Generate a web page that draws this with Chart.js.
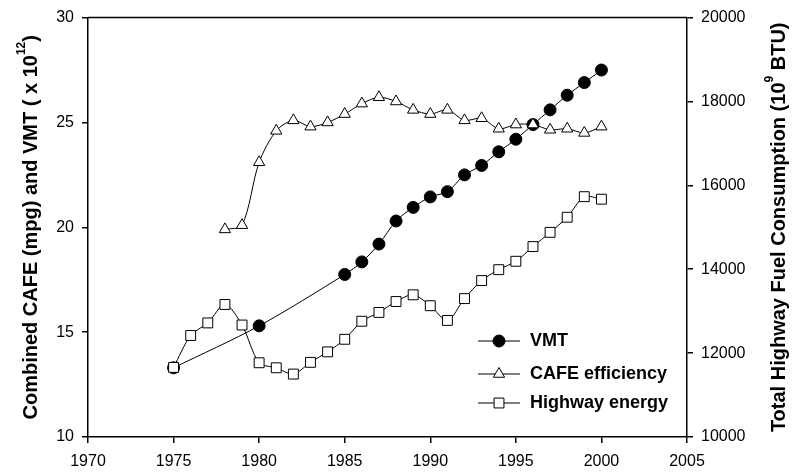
<!DOCTYPE html>
<html>
<head>
<meta charset="utf-8">
<script src="https://cdn.jsdelivr.net/npm/chart.js@4/dist/chart.umd.min.js"></script>
<style>
  html, body { margin: 0; padding: 0; background: #fff; }
  #wrap { width: 796px; height: 472px; }
</style>
</head>
<body>
<div id="wrap"><canvas id="chart" width="796" height="472"></canvas></div>
<script>
// values
const vmtYears = [1975, 1980, 1985, 1986, 1987, 1988, 1989, 1990, 1991, 1992, 1993, 1994, 1995, 1996, 1997, 1998, 1999, 2000]
const vmtValues = [13.3, 15.3, 17.75, 18.35, 19.2, 20.3, 20.95, 21.45, 21.7, 22.5, 22.95, 23.6, 24.2, 24.9, 25.6, 26.3, 26.9, 27.5]

const cafeYears = [1978, 1979, 1980, 1981, 1982, 1983, 1984, 1985, 1986, 1987, 1988, 1989, 1990, 1991, 1992, 1993, 1994, 1995, 1996, 1997, 1998, 1999, 2000]
const cafeValues = [19.9, 20.1, 23.1, 24.6, 25.1, 24.8, 25.0, 25.4, 25.9, 26.2, 26.0, 25.6, 25.4, 25.6, 25.1, 25.2, 24.7, 24.9, 24.9, 24.65, 24.7, 24.5, 24.8]

const energyYears = [1975, 1976, 1977, 1978, 1979, 1980, 1981, 1982, 1983, 1984, 1985, 1986, 1987, 1988, 1989, 1990, 1991, 1992, 1993, 1994, 1995, 1996, 1997, 1998, 1999, 2000]
const energyValues = [11660, 12420, 12720, 13160, 12670, 11770, 11650, 11500, 11780, 12030, 12330, 12760, 12970, 13230, 13390, 13130, 12780, 13300, 13730, 13990, 14190, 14540, 14880, 15240, 15730, 15670]

const seriesLabels = ['VMT', 'CAFE efficiency', 'Highway energy']
const leftTitle = ['Combined CAFE (mpg) and VMT ( x 10', '12', ')']
const rightTitle = ['Total Highway Fuel Consumption (10', '9', ' BTU)']

const toPoints = (xs, ys) => xs.map((x, i) => ({x: x, y: ys[i]}))

const FONT = "'Liberation Sans', Arial, sans-serif"

// frame on top of the plot + rotated titles with superscripts
const framePlugin = {
    id: 'frame',
    afterDraw(chart) {
        const {ctx, chartArea: a} = chart
        ctx.save()
        ctx.strokeStyle = '#000'
        ctx.lineWidth = 1.5
        ctx.beginPath()
        ctx.moveTo(a.left, a.top)
        ctx.lineTo(a.right, a.top)
        ctx.stroke()

        const cy = (a.top + a.bottom) / 2
        drawTitle(ctx, leftTitle, 37, cy)
        drawTitle(ctx, rightTitle, 785, cy)
        ctx.restore()
    }
}

function drawTitle(ctx, parts, baseX, cy) {
    const big = 'bold 20px ' + FONT
    const small = 'bold 12px ' + FONT
    ctx.save()
    ctx.translate(baseX, cy)
    ctx.rotate(-Math.PI / 2)
    ctx.fillStyle = '#000'
    ctx.textBaseline = 'alphabetic'
    ctx.textAlign = 'left'
    let widths = parts.map((p, i) => {
        ctx.font = i === 1 ? small : big
        return ctx.measureText(p).width
    })
    let total = widths.reduce((s, w) => s + w, 0)
    let x = -total / 2
    parts.forEach((p, i) => {
        ctx.font = i === 1 ? small : big
        ctx.fillText(p, x, i === 1 ? -12 : 0)
        x += widths[i]
    })
    ctx.restore()
}

// legend drawn inside the plot, line with marker like the original
const legendPlugin = {
    id: 'innerLegend',
    afterDatasetsDraw(chart) {
        const ctx = chart.ctx
        const rows = [341, 374, 403]
        ctx.save()
        chart.data.datasets.forEach((ds, i) => {
            const y = rows[i]
            ctx.strokeStyle = '#000'
            ctx.lineWidth = 1
            ctx.beginPath()
            ctx.moveTo(478, y)
            ctx.lineTo(520, y)
            ctx.stroke()
            ctx.fillStyle = ds.pointBackgroundColor
            ctx.strokeStyle = '#000'
            Chart.helpers.drawPoint(ctx, {
                pointStyle: ds.pointStyle,
                radius: ds.pointRadius,
                rotation: 0,
                borderWidth: 1
            }, 499, y)
            ctx.fillStyle = '#000'
            ctx.font = 'bold 18px ' + FONT
            ctx.textBaseline = 'middle'
            ctx.textAlign = 'left'
            ctx.fillText(ds.label, 530, y)
        })
        ctx.restore()
    }
}

const tickFont = {family: FONT, size: 16}
const axisBits = {
    grid: {drawOnChartArea: false, drawTicks: true, tickLength: 6, color: '#000', lineWidth: 1.5},
    border: {display: true, color: '#000', width: 1.5}
}

new Chart(document.getElementById('chart'), {
    type: 'line',
    data: {
        datasets: [
            {
                label: seriesLabels[0],
                data: toPoints(vmtYears, vmtValues),
                yAxisID: 'y',
                borderColor: '#000',
                borderWidth: 1,
                pointStyle: 'circle',
                pointRadius: 6,
                pointBackgroundColor: '#000',
                pointBorderColor: '#000',
                order: 2
            },
            {
                label: seriesLabels[1],
                data: toPoints(cafeYears, cafeValues),
                yAxisID: 'y',
                borderColor: '#000',
                borderWidth: 1,
                pointStyle: 'triangle',
                pointRadius: 6.5,
                pointBackgroundColor: '#fff',
                pointBorderColor: '#000',
                order: 1
            },
            {
                label: seriesLabels[2],
                data: toPoints(energyYears, energyValues),
                yAxisID: 'y1',
                borderColor: '#000',
                borderWidth: 1,
                pointStyle: 'rect',
                pointRadius: 7,
                pointBackgroundColor: '#fff',
                pointBorderColor: '#000',
                order: 0
            }
        ]
    },
    options: {
        responsive: false,
        animation: false,
        layout: {padding: {top: 16, left: 0, right: 0, bottom: 0}, autoPadding: false},
        elements: {line: {tension: 0.3}, point: {borderWidth: 1}},
        plugins: {legend: {display: false}, tooltip: {enabled: false}},
        scales: {
            x: {
                type: 'linear',
                min: 1970, max: 2005,
                ticks: {stepSize: 5, color: '#000', font: tickFont, padding: 9, callback: v => String(v)},
                afterFit: s => { s.height = 35 },
                ...axisBits
            },
            y: {
                type: 'linear',
                position: 'left',
                min: 10, max: 30,
                ticks: {stepSize: 5, color: '#000', font: tickFont, padding: 8, callback: v => String(v)},
                afterFit: s => { s.width = 88 },
                ...axisBits
            },
            y1: {
                type: 'linear',
                position: 'right',
                min: 10000, max: 20000,
                ticks: {stepSize: 2000, color: '#000', font: tickFont, padding: 8, callback: v => String(v)},
                afterFit: s => { s.width = 109 },
                ...axisBits
            }
        }
    },
    plugins: [framePlugin, legendPlugin]
})
</script>
</body>
</html>
